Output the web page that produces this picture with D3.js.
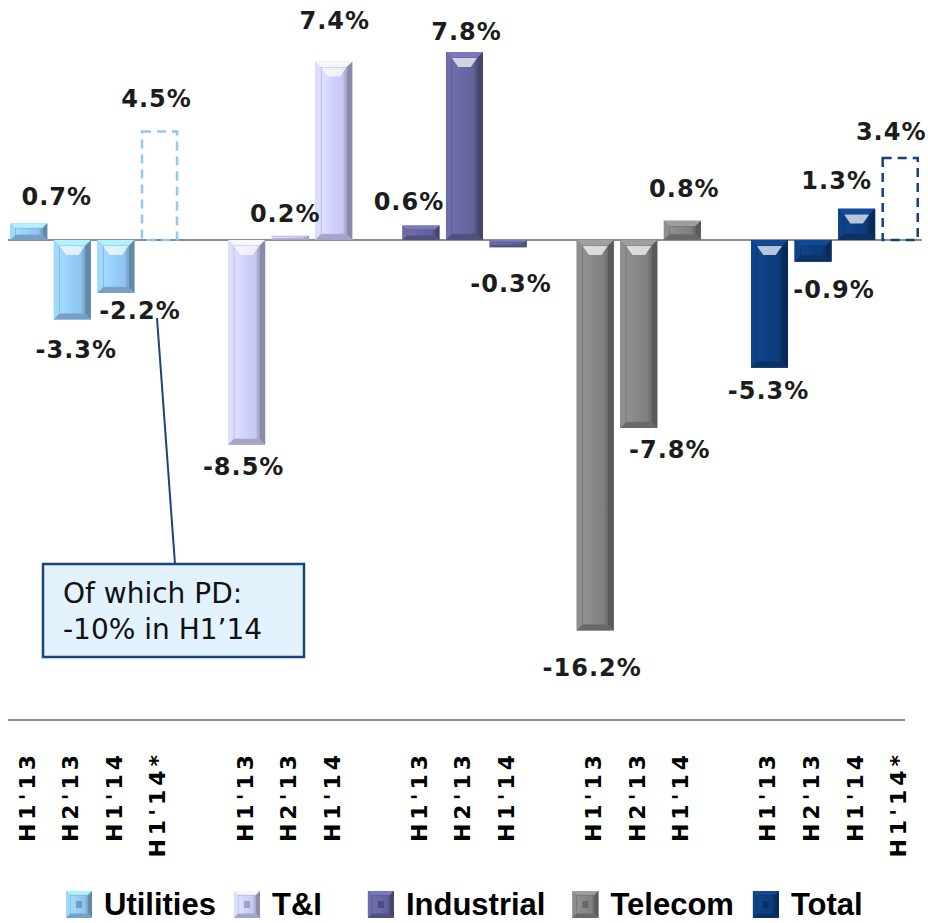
<!DOCTYPE html>
<html>
<head>
<meta charset="utf-8">
<script src="https://cdn.jsdelivr.net/npm/d3@7"></script>
<style>
  body { margin: 0; background: #fff; }
  svg { display: block; }
</style>
</head>
<body>
<svg id="chart" width="928" height="923"></svg>
<script>
// ---------- DATA ----------
const groups = ["Utilities", "T&I", "Industrial", "Telecom", "Total"];
const groupColors = ["#8fc3ee", "#c6c7f2", "#63629a", "#808080", "#0d3c7b"];
const dashColors  = ["#92c8f4", "#c6c7f2", "#63629a", "#808080", "#14427e"];

const utilitiesPeriods  = ["H1'13", "H2'13", "H1'14", "H1'14*"];
const tiPeriods         = ["H1'13", "H2'13", "H1'14"];
const industrialPeriods = ["H1'13", "H2'13", "H1'14"];
const telecomPeriods    = ["H1'13", "H2'13", "H1'14"];
const totalPeriods      = ["H1'13", "H2'13", "H1'14", "H1'14*"];

const utilitiesValues  = [0.7, -3.3, -2.2, 4.5];
const tiValues         = [-8.5, 0.2, 7.4];
const industrialValues = [0.6, 7.8, -0.3];
const telecomValues    = [-16.2, -7.8, 0.8];
const totalValues      = [-5.3, -0.9, 1.3, 3.4];

const periodsByGroup = [utilitiesPeriods, tiPeriods, industrialPeriods, telecomPeriods, totalPeriods];
const valuesByGroup  = [utilitiesValues, tiValues, industrialValues, telecomValues, totalValues];

// label nudges (layout only, px) [dx, dy]
const utilitiesNudge  = [[28, -5], [4, 8], [24, -5], [-3, -11]];
const tiNudge         = [[-3, 0], [-5, 0], [1, -19]];
const industrialNudge = [[-12, -2], [2, 1], [3, 14]];
const telecomNudge    = [[-3, 15], [31, -1], [2, -10]];
const totalNudge      = [[-1, 1], [21, 6], [-20, -6], [-9, -5]];
const nudgesByGroup = [utilitiesNudge, tiNudge, industrialNudge, telecomNudge, totalNudge];

// ---------- BUILD ----------
const rows = [];
const slots = [];
groups.forEach((g, gi) => {
  periodsByGroup[gi].forEach((p, pi) => {
    const key = g + "|" + p;
    slots.push(key);
    rows.push({
      key, group: g, gi, period: p,
      value: valuesByGroup[gi][pi],
      dashed: p.endsWith("*"),
      nudge: nudgesByGroup[gi][pi]
    });
  });
  if (gi < groups.length - 1) slots.push("gap" + gi);
});

const svg = d3.select("#chart");
const defs = svg.append("defs");

const x = d3.scaleBand().domain(slots).range([7, 922]).paddingInner(0.15).paddingOuter(0.075);
const y = d3.scaleLinear().domain([-20, 10]).range([722, -1]);

// gradients per colour
groupColors.forEach((col, i) => {
  const c = d3.color(col);
  const gr = defs.append("linearGradient").attr("id", "face" + i)
    .attr("x1", "0").attr("x2", "1").attr("y1", "0").attr("y2", "0");
  gr.append("stop").attr("offset", "0").attr("stop-color", c.brighter(0.35));
  gr.append("stop").attr("offset", "0.55").attr("stop-color", c.brighter(0.1));
  gr.append("stop").attr("offset", "0.85").attr("stop-color", c);
  gr.append("stop").attr("offset", "1").attr("stop-color", c.darker(0.6));
});

function bevel(g, bx, by, w, h, gi, glareOn) {
  const c = d3.color(groupColors[gi]);
  const b = Math.max(1, Math.min(6, w * 0.16, h * 0.3));
  g.append("rect").attr("x", bx).attr("y", by).attr("width", w).attr("height", h).attr("fill", c);
  const poly = pts => g.append("polygon").attr("points", pts.map(p => p.join(",")).join(" "));
  poly([[bx, by], [bx + w, by], [bx + w - b, by + b], [bx + b, by + b]]).attr("fill", c.brighter(0.6));
  poly([[bx, by], [bx + b, by + b], [bx + b, by + h - b], [bx, by + h]]).attr("fill", c.brighter(0.3));
  poly([[bx + w, by], [bx + w, by + h], [bx + w - b, by + h - b], [bx + w - b, by + b]]).attr("fill", c.darker(1.0));
  poly([[bx, by + h], [bx + w, by + h], [bx + w - b, by + h - b], [bx + b, by + h - b]]).attr("fill", c.darker(0.55));
  g.append("rect").attr("x", bx + b).attr("y", by + b)
    .attr("width", Math.max(0, w - 2 * b)).attr("height", Math.max(0, h - 2 * b))
    .attr("fill", "url(#face" + gi + ")")
    .attr("stroke", c.darker(0.4)).attr("stroke-width", 0.6);
  if (glareOn && h > 30) {
    const iw = w - 2 * b;
    g.append("path")
      .attr("d", `M${bx + b},${by + b} L${bx + w - b},${by + b} L${bx + w - b - iw * 0.25},${by + b + 9} L${bx + b + iw * 0.25},${by + b + 9} Z`)
      .attr("fill", "#fff").attr("opacity", 0.7);
  }
}

// zero line
svg.append("line").attr("x1", 8).attr("x2", 922).attr("y1", y(0)).attr("y2", y(0))
  .attr("stroke", "#8c8c8c").attr("stroke-width", 2);

// bars
const barsG = svg.append("g");
rows.forEach(d => {
  const bx = x(d.key), w = x.bandwidth();
  const top = y(Math.max(0, d.value)), bot = y(Math.min(0, d.value));
  if (d.dashed) {
    barsG.append("rect").attr("x", bx + 1).attr("y", top).attr("width", w - 2).attr("height", bot - top)
      .attr("fill", "none").attr("stroke", dashColors[d.gi]).attr("stroke-width", 2.5)
      .attr("stroke-dasharray", "9,6");
  } else {
    bevel(barsG, bx, top, w, bot - top, d.gi, true);
  }
});

// value labels
const fmt = v => v.toFixed(1) + "%";
svg.append("g").selectAll("text").data(rows).join("text")
  .attr("x", d => x(d.key) + x.bandwidth() / 2 + d.nudge[0])
  .attr("y", d => (d.value >= 0 ? y(d.value) - 22 : y(d.value) + 22) + d.nudge[1])
  .attr("dy", "0.36em")
  .attr("text-anchor", "middle")
  .attr("font-family", "DejaVu Sans, Verdana, sans-serif")
  .attr("font-weight", "bold")
  .attr("font-size", 24)
  .attr("letter-spacing", 1)
  .attr("fill", "#1c1c1c")
  .text(d => fmt(d.value));

// bottom separator line
svg.append("line").attr("x1", 8).attr("x2", 905).attr("y1", 720).attr("y2", 720)
  .attr("stroke", "#8c8c8c").attr("stroke-width", 2);

// x-axis labels (rotated)
svg.append("g").selectAll("text").data(rows).join("text")
  .attr("transform", d => `translate(${x(d.key) + x.bandwidth() / 2 - 2},751) rotate(-90)`)
  .attr("dy", "0.36em")
  .attr("text-anchor", "end")
  .attr("font-family", "DejaVu Sans, Verdana, sans-serif")
  .attr("font-weight", "bold")
  .attr("font-size", 22)
  .attr("letter-spacing", 4)
  .attr("fill", "#000")
  .text(d => d.period);

// annotation
const ann = svg.append("g");
ann.append("line").attr("x1", 157).attr("y1", 318).attr("x2", 175).attr("y2", 564)
  .attr("stroke", "#1b467c").attr("stroke-width", 2);
ann.append("rect").attr("x", 43).attr("y", 564).attr("width", 261).attr("height", 93)
  .attr("fill", "#e2f3fd").attr("stroke", "#1b467c").attr("stroke-width", 2.5);
ann.append("text").attr("x", 63).attr("y", 603)
  .attr("font-family", "DejaVu Sans, Verdana, sans-serif").attr("font-size", 28).attr("fill", "#111")
  .text("Of which PD:");
ann.append("text").attr("x", 63).attr("y", 639)
  .attr("font-family", "DejaVu Sans, Verdana, sans-serif").attr("font-size", 28).attr("fill", "#111")
  .text("-10% in H1\u201914");

// legend
const legend = svg.append("g");
let lx = 66;
const legendGaps = [18, 46, 27, 19, 0];
groups.forEach((g, gi) => {
  const item = legend.append("g");
  bevel(item, lx, 891, 26, 27, gi, false);
  item.append("rect").attr("x", lx + 10).attr("y", 901).attr("width", 6).attr("height", 7)
    .attr("fill", d3.color(groupColors[gi]).darker(0.6));
  const t = item.append("text").attr("x", lx + 38).attr("y", 915)
    .attr("font-family", "Liberation Sans, Arial, sans-serif")
    .attr("font-weight", "bold").attr("font-size", 31).attr("fill", "#000")
    .text(g);
  const tw = t.node().getComputedTextLength();
  lx = lx + 38 + tw + legendGaps[gi];
});
</script>
</body>
</html>
